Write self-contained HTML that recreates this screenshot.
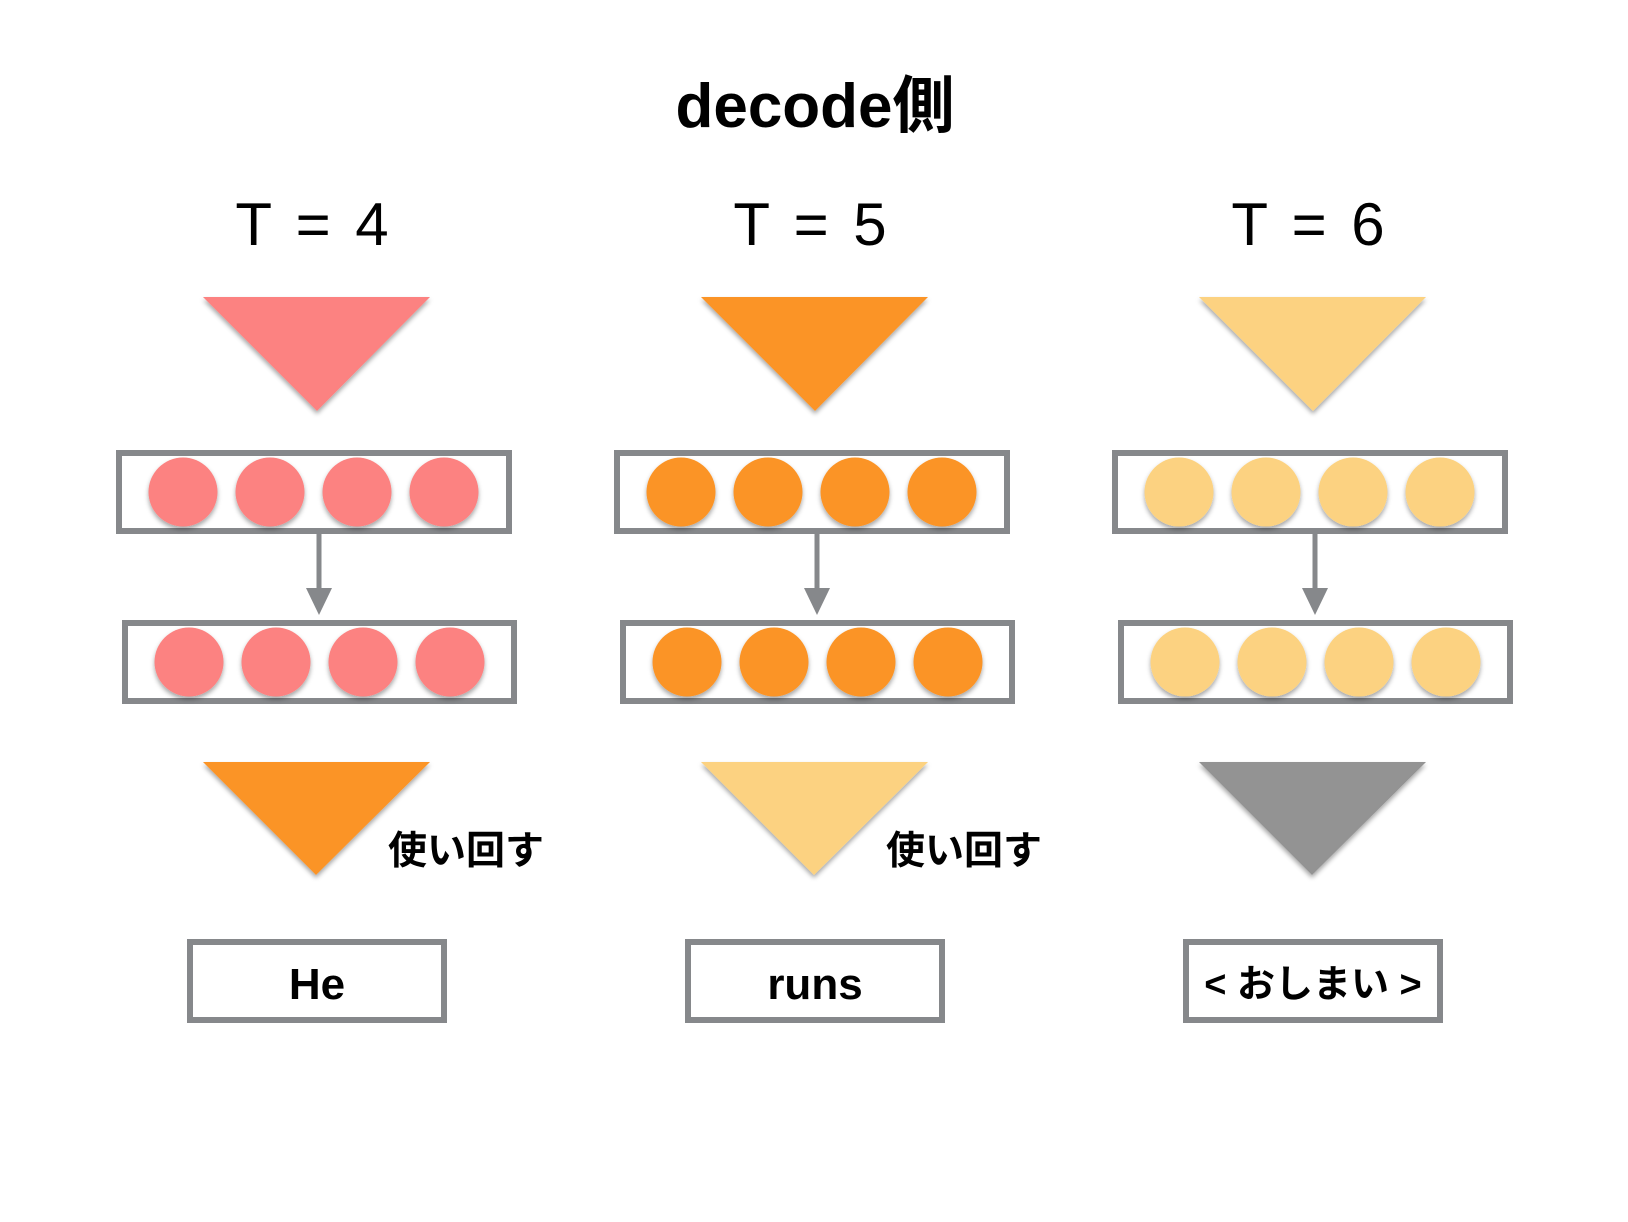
<!DOCTYPE html>
<html><head><meta charset="utf-8"><style>
html,body{margin:0;padding:0;background:#fff;}
svg{display:block}
</style></head><body>
<svg width="1628" height="1222" viewBox="0 0 1628 1222" xmlns="http://www.w3.org/2000/svg">
<defs>
<filter id="sh" x="-30%" y="-30%" width="160%" height="170%">
<feDropShadow dx="0" dy="3" stdDeviation="2.5" flood-color="#000" flood-opacity="0.35"/>
</filter>
</defs>
<text x="815" y="127" text-anchor="middle" font-family="Liberation Sans, 'Noto Sans CJK JP', sans-serif" font-weight="bold" font-size="62">decode側</text>
<g id="c1">
<text x="314" y="245" text-anchor="middle" font-family="Liberation Sans, sans-serif" font-size="60" letter-spacing="4">T = 4</text>
<polygon points="203,297 430,297 317,411" fill="#FC8281" filter="url(#sh)"/>
<rect x="119" y="453" width="390" height="78" fill="#fff" stroke="#86888B" stroke-width="6"/>
<g fill="#FC8281" filter="url(#sh)">
<circle cx="183" cy="492" r="34.5"/><circle cx="270" cy="492" r="34.5"/><circle cx="357" cy="492" r="34.5"/><circle cx="444" cy="492" r="34.5"/>
</g>
<line x1="319" y1="534" x2="319" y2="592" stroke="#86888B" stroke-width="5"/>
<polygon points="306,588 332,588 319,615" fill="#86888B"/>
<rect x="125" y="623" width="389" height="78" fill="#fff" stroke="#86888B" stroke-width="6"/>
<g fill="#FC8281" filter="url(#sh)">
<circle cx="189" cy="662" r="34.5"/><circle cx="276" cy="662" r="34.5"/><circle cx="363" cy="662" r="34.5"/><circle cx="450" cy="662" r="34.5"/>
</g>
<polygon points="203,762 430,762 316,875" fill="#FB9428" filter="url(#sh)"/>
<text x="388" y="864" font-family="Liberation Sans, 'Noto Sans CJK JP', sans-serif" font-weight="bold" font-size="39">使い回す</text>
<rect x="190" y="942" width="254" height="78" fill="#fff" stroke="#86888B" stroke-width="6"/>
<text x="317" y="999" text-anchor="middle" font-family="Liberation Sans, sans-serif" font-weight="bold" font-size="44">He</text>
</g>
<g transform="translate(498,0)">
<text x="314" y="245" text-anchor="middle" font-family="Liberation Sans, sans-serif" font-size="60" letter-spacing="4">T = 5</text>
<polygon points="203,297 430,297 317,411" fill="#FB9428" filter="url(#sh)"/>
<rect x="119" y="453" width="390" height="78" fill="#fff" stroke="#86888B" stroke-width="6"/>
<g fill="#FB9428" filter="url(#sh)">
<circle cx="183" cy="492" r="34.5"/><circle cx="270" cy="492" r="34.5"/><circle cx="357" cy="492" r="34.5"/><circle cx="444" cy="492" r="34.5"/>
</g>
<line x1="319" y1="534" x2="319" y2="592" stroke="#86888B" stroke-width="5"/>
<polygon points="306,588 332,588 319,615" fill="#86888B"/>
<rect x="125" y="623" width="389" height="78" fill="#fff" stroke="#86888B" stroke-width="6"/>
<g fill="#FB9428" filter="url(#sh)">
<circle cx="189" cy="662" r="34.5"/><circle cx="276" cy="662" r="34.5"/><circle cx="363" cy="662" r="34.5"/><circle cx="450" cy="662" r="34.5"/>
</g>
<polygon points="203,762 430,762 316,875" fill="#FCD281" filter="url(#sh)"/>
<text x="388" y="864" font-family="Liberation Sans, 'Noto Sans CJK JP', sans-serif" font-weight="bold" font-size="39">使い回す</text>
<rect x="190" y="942" width="254" height="78" fill="#fff" stroke="#86888B" stroke-width="6"/>
<text x="317" y="999" text-anchor="middle" font-family="Liberation Sans, sans-serif" font-weight="bold" font-size="44">runs</text>
</g>
<g transform="translate(996,0)">
<text x="314" y="245" text-anchor="middle" font-family="Liberation Sans, sans-serif" font-size="60" letter-spacing="4">T = 6</text>
<polygon points="203,297 430,297 317,411" fill="#FCD281" filter="url(#sh)"/>
<rect x="119" y="453" width="390" height="78" fill="#fff" stroke="#86888B" stroke-width="6"/>
<g fill="#FCD281" filter="url(#sh)">
<circle cx="183" cy="492" r="34.5"/><circle cx="270" cy="492" r="34.5"/><circle cx="357" cy="492" r="34.5"/><circle cx="444" cy="492" r="34.5"/>
</g>
<line x1="319" y1="534" x2="319" y2="592" stroke="#86888B" stroke-width="5"/>
<polygon points="306,588 332,588 319,615" fill="#86888B"/>
<rect x="125" y="623" width="389" height="78" fill="#fff" stroke="#86888B" stroke-width="6"/>
<g fill="#FCD281" filter="url(#sh)">
<circle cx="189" cy="662" r="34.5"/><circle cx="276" cy="662" r="34.5"/><circle cx="363" cy="662" r="34.5"/><circle cx="450" cy="662" r="34.5"/>
</g>
<polygon points="203,762 430,762 316,875" fill="#939393" filter="url(#sh)"/>
<rect x="190" y="942" width="254" height="78" fill="#fff" stroke="#86888B" stroke-width="6"/>
<text x="317" y="997" text-anchor="middle" font-family="Liberation Sans, 'Noto Sans CJK JP', sans-serif" font-weight="bold" font-size="38">&lt; おしまい &gt;</text>
</g>
</svg>
</body></html>
